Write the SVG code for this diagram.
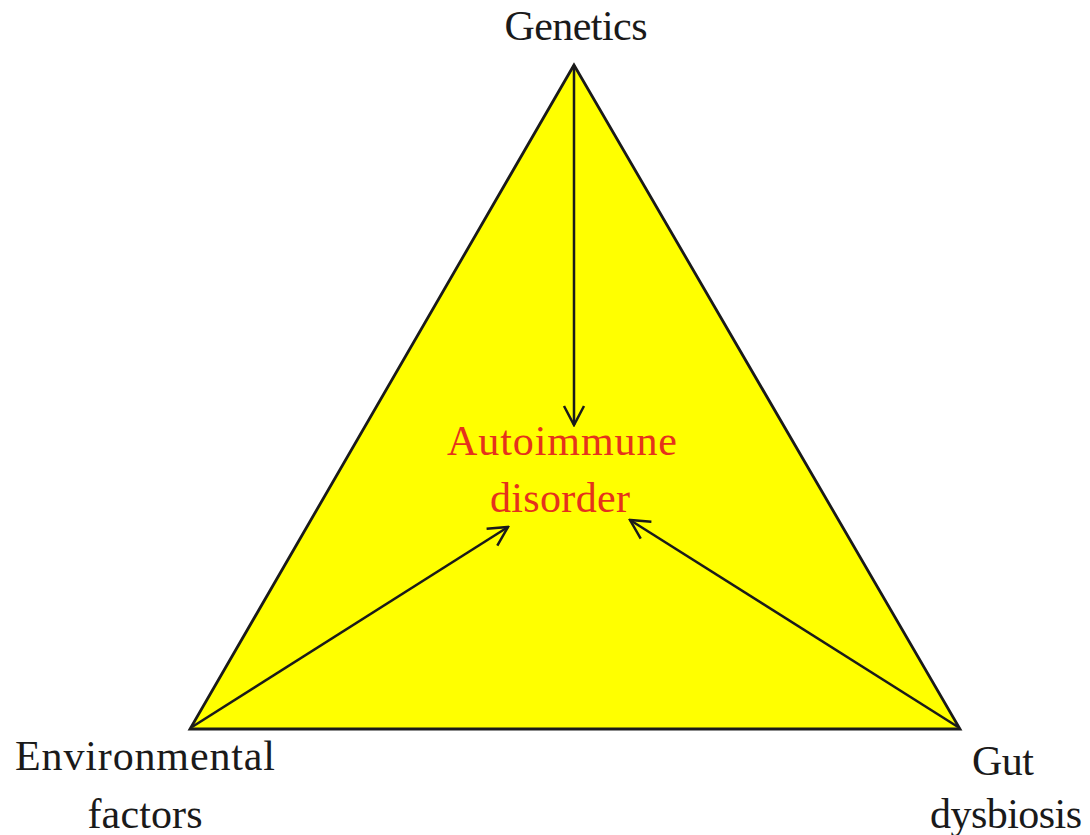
<svg xmlns="http://www.w3.org/2000/svg" width="1090" height="835" viewBox="0 0 1090 835">
<defs>
<style>
.lbl{font-family:"Liberation Serif","Times New Roman",serif;font-size:42px;fill:#1a1a1a;text-anchor:middle}
.red{fill:#e5321c}
.conn{stroke:#1a1a1a;stroke-width:2.5;fill:none}
</style>
<marker id="ah" viewBox="0 0 24 24" refX="22" refY="12" markerWidth="24" markerHeight="24" markerUnits="userSpaceOnUse" orient="auto">
<path d="M3,2 L22,12 L3,22" fill="none" stroke="#1a1a1a" stroke-width="2.5"/>
</marker>
</defs>
<rect width="1090" height="835" fill="#fff"/>
<g id="triangle">
<polygon points="574,65 190,729 960,729" fill="#ffff00" stroke="#1a1a1a" stroke-width="2.8" stroke-linejoin="miter"/>
</g>
<g id="connectors">
<line class="conn" x1="574" y1="65" x2="574" y2="425" marker-end="url(#ah)"/>
<line class="conn" x1="192" y1="727" x2="508" y2="527" marker-end="url(#ah)"/>
<line class="conn" x1="958" y1="727" x2="630" y2="520" marker-end="url(#ah)"/>
</g>
<g id="genetics"><text class="lbl" x="576" y="40" textLength="143">Genetics</text></g>
<g id="autoimmune">
<text class="lbl red" x="562" y="455" textLength="230">Autoimmune</text>
<text class="lbl red" x="560" y="512" textLength="140">disorder</text>
</g>
<g id="environmental">
<text class="lbl" x="145" y="770" textLength="260">Environmental</text>
<text class="lbl" x="145" y="828" textLength="115">factors</text>
</g>
<g id="gut">
<text class="lbl" x="1003" y="775" textLength="62">Gut</text>
<text class="lbl" x="1006" y="828" textLength="152">dysbiosis</text>
</g>
</svg>
